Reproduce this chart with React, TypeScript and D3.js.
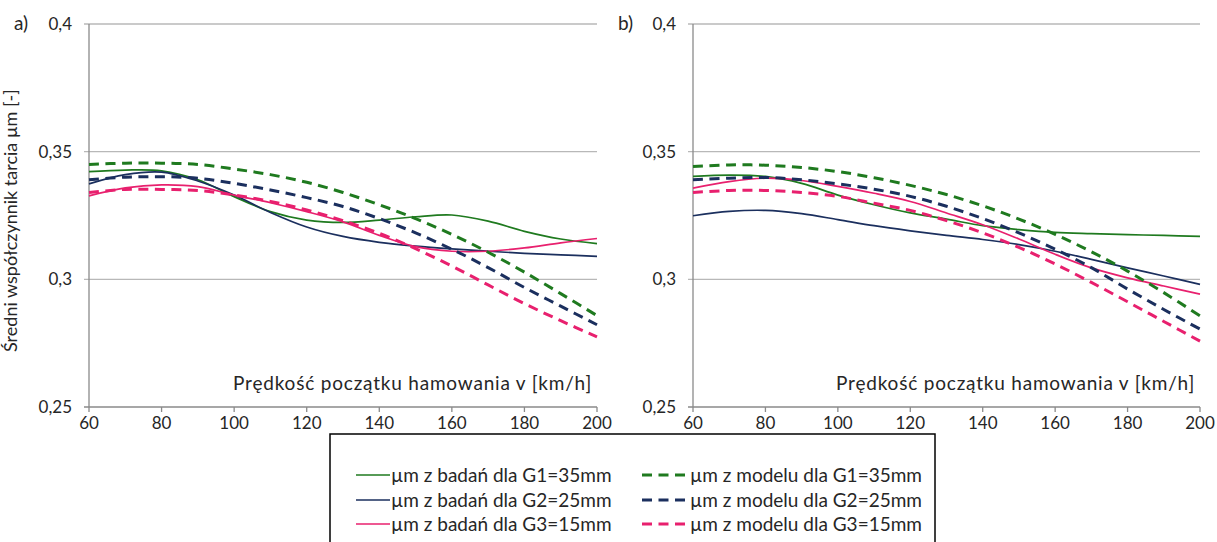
import React from "react";
import * as d3 from "d3";

const speeds = [60, 70, 80, 90, 100, 110, 120, 130, 140, 150, 160, 170, 180, 190, 200];
const xTicks = [60, 80, 100, 120, 140, 160, 180, 200];
const yTicks = [0.25, 0.3, 0.35, 0.4];
const yTickLabels = ["0,25", "0,3", "0,35", "0,4"];

// panel a)
const aG1Test = [0.3422, 0.3428, 0.3425, 0.339, 0.3324, 0.3265, 0.3232, 0.3223, 0.3232, 0.3245, 0.3252, 0.3228, 0.3188, 0.3158, 0.314];
const aG2Test = [0.3374, 0.341, 0.342, 0.3385, 0.333, 0.3262, 0.3205, 0.3168, 0.3145, 0.313, 0.3119, 0.311, 0.3102, 0.3096, 0.309];
const aG3Test = [0.3327, 0.3358, 0.337, 0.3363, 0.333, 0.33, 0.3265, 0.3225, 0.3172, 0.3128, 0.311, 0.311, 0.3123, 0.3143, 0.316];
const aG1Model = [0.345, 0.3455, 0.3455, 0.345, 0.3432, 0.341, 0.338, 0.334, 0.3292, 0.3238, 0.3176, 0.3106, 0.3028, 0.2944, 0.2858];
const aG2Model = [0.339, 0.34, 0.3402, 0.3396, 0.3376, 0.335, 0.332, 0.3285, 0.3238, 0.3182, 0.3118, 0.3046, 0.2968, 0.2895, 0.2822];
const aG3Model = [0.334, 0.3352, 0.3352, 0.3348, 0.333, 0.3305, 0.3272, 0.323, 0.318, 0.312, 0.3052, 0.2978, 0.2905, 0.2838, 0.2775];

// panel b)
const bG1Test = [0.3403, 0.3408, 0.3403, 0.3376, 0.333, 0.3292, 0.326, 0.3236, 0.321, 0.3195, 0.3184, 0.3179, 0.3175, 0.3172, 0.3168];
const bG2Test = [0.3249, 0.3266, 0.327, 0.3257, 0.3234, 0.321, 0.319, 0.3172, 0.3156, 0.3136, 0.311, 0.3078, 0.3045, 0.3013, 0.298];
const bG3Test = [0.3357, 0.3383, 0.3396, 0.3387, 0.3364, 0.3337, 0.3305, 0.326, 0.3214, 0.3158, 0.3098, 0.3045, 0.3006, 0.2974, 0.2942];
const bG1Model = [0.3442, 0.3448, 0.3447, 0.3438, 0.3422, 0.3398, 0.3368, 0.3332, 0.3288, 0.3236, 0.3176, 0.3108, 0.3032, 0.2948, 0.2857];
const bG2Model = [0.339, 0.3396, 0.3399, 0.339, 0.3374, 0.3353, 0.3325, 0.3286, 0.3238, 0.3182, 0.3118, 0.3046, 0.2962, 0.2882, 0.2805];
const bG3Model = [0.334, 0.3348, 0.3348, 0.334, 0.3325, 0.3298, 0.327, 0.323, 0.3182, 0.3125, 0.306, 0.2988, 0.2912, 0.2835, 0.2758];

const GREEN = "#1f7a1f";
const NAVY = "#1b2f5e";
const PINK = "#e8206e";

const legendTest = ["µm z badań dla G1=35mm", "µm z badań dla G2=25mm", "µm z badań dla G3=15mm"];
const legendModel = ["µm z modelu dla G1=35mm", "µm z modelu dla G2=25mm", "µm z modelu dla G3=15mm"];
const colors = [GREEN, NAVY, PINK];

const FONT = "Lato, 'Open Sans', sans-serif";
const TXT = "#262626";
const xTitle = "Prędkość początku hamowania v [km/h]";
const yTitle = "Średni współczynnik tarcia µm [-]";

const y = d3.scaleLinear().domain([0.25, 0.4]).range([407, 24]);

function Panel({ x0, x1, label, tests, models }: { x0: number; x1: number; label: string; tests: number[][]; models: number[][] }) {
  const x = d3.scaleLinear().domain([60, 200]).range([x0, x1]);
  const line = d3
    .line<number>()
    .x((_, i) => x(speeds[i]))
    .y((d) => y(d))
    .curve(d3.curveCatmullRom.alpha(0.5));
  return (
    <g>
      {yTicks.map((t, i) => (
        <g key={t}>
          <line x1={x0 - 5} x2={x1} y1={y(t)} y2={y(t)} stroke={i === 0 ? "#8a8a8a" : "#b8b8b8"} strokeWidth={1.3} />
          <text x={x0 - 17} y={y(t)} dy="0.35em" textAnchor="end" fontSize={17} fill={TXT} fontFamily={FONT}>
            {yTickLabels[i]}
          </text>
        </g>
      ))}
      <line x1={x0} x2={x0} y1={y(0.4)} y2={y(0.25)} stroke="#8a8a8a" strokeWidth={1.3} />
      {xTicks.map((t) => (
        <g key={t}>
          <line x1={x(t)} x2={x(t)} y1={y(0.25)} y2={y(0.25) + 5} stroke="#8a8a8a" strokeWidth={1.3} />
          <text x={x(t)} y={y(0.25) + 16} dy="0.35em" textAnchor="middle" fontSize={17} fill={TXT} fontFamily={FONT}>
            {t}
          </text>
        </g>
      ))}
      <text x={x0 - 75} y={y(0.4)} dy="0.3em" fontSize={19} fill={TXT} fontFamily={FONT}>
        {label}
      </text>
      <text x={x1 - 5} y={y(0.25) - 24} dy="0.35em" textAnchor="end" fontSize={19} letterSpacing={0.8} fill={TXT} fontFamily={FONT}>
        {xTitle}
      </text>
      {tests.map((s, i) => (
        <path key={"t" + i} d={line(s) || ""} fill="none" stroke={colors[i]} strokeWidth={1.7} />
      ))}
      {models.map((s, i) => (
        <path key={"m" + i} d={line(s) || ""} fill="none" stroke={colors[i]} strokeWidth={3} strokeDasharray="10 6.5" />
      ))}
    </g>
  );
}

export default function App() {
  const rows = [475, 500, 524];
  return (
    <svg width={1217} height={542} style={{ position: "absolute", left: 0, top: 0, background: "#fff" }}>
      <rect x={0} y={0} width={1217} height={542} fill="#fff" />
      <Panel x0={89} x1={597} label="a)" tests={[aG1Test, aG2Test, aG3Test]} models={[aG1Model, aG2Model, aG3Model]} />
      <Panel x0={693} x1={1200} label="b)" tests={[bG1Test, bG2Test, bG3Test]} models={[bG1Model, bG2Model, bG3Model]} />
      <text transform={`translate(11,${y(0.323)}) rotate(-90)`} textAnchor="middle" dy="0.35em" fontSize={18} fill={TXT} fontFamily={FONT}>
        {yTitle}
      </text>
      <rect x={330} y={434} width={605} height={120} fill="none" stroke="#000" strokeWidth={1.5} />
      {rows.map((ry, i) => (
        <g key={i}>
          <line x1={356} x2={390} y1={ry} y2={ry} stroke={colors[i]} strokeWidth={1.7} />
          <text x={391} y={ry} dy="0.35em" fontSize={19} fill={TXT} fontFamily={FONT}>
            {legendTest[i]}
          </text>
          <line x1={642} x2={688} y1={ry} y2={ry} stroke={colors[i]} strokeWidth={3} strokeDasharray="10 6.5" />
          <text x={690} y={ry} dy="0.35em" fontSize={19} fill={TXT} fontFamily={FONT}>
            {legendModel[i]}
          </text>
        </g>
      ))}
    </svg>
  );
}
